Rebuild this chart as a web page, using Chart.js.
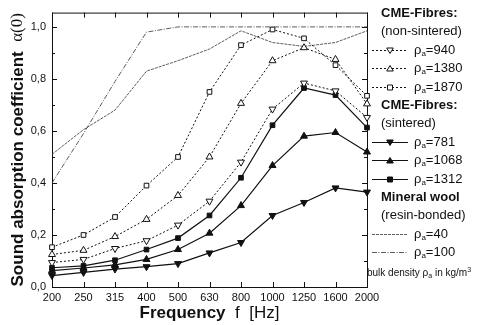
<!DOCTYPE html>
<html>
<head>
<meta charset="utf-8">
<script src="https://cdn.jsdelivr.net/npm/chart.js@4.4.1/dist/chart.umd.min.js"></script>
<style>
  body { margin: 0; background: #fff; }
  #wrap { position: relative; width: 478px; height: 325px; font-family: "Liberation Sans", Arial, sans-serif; color: #111; }
  #chart { position: absolute; left: 0; top: 0; }
  .row { position: absolute; white-space: nowrap; font-size: 13px; line-height: 14px; }
  .row.head { font-weight: bold; }
  .row sub { font-size: 8px; vertical-align: -2px; }
  .row canvas { position: absolute; left: 0; top: 1px; }
  .row span.t { position: absolute; left: 42px; top: 0; }
  .note { position: absolute; left: 367px; top: 266px; font-size: 10px; white-space: nowrap; }
  .note sub { font-size: 7px; vertical-align: -2px; }
  .note sup { font-size: 7px; vertical-align: 4px; }
</style>
</head>
<body>
<div id="wrap">
  <canvas id="chart" width="478" height="325"></canvas>
  <div id="legend"></div>
  <div class="note">bulk density ρ<sub>a</sub> in kg/m<sup>3</sup></div>
</div>
<script>
// frequencies (category axis)
const freqs = ["200", "250", "315", "400", "500", "630", "800", "1000", "1250", "1600", "2000"];
const yTicks = [0, 0.2, 0.4, 0.6, 0.8, 1.0];
const yTickLabels = ["0,0", "0,2", "0,4", "0,6", "0,8", "1,0"];

// CME fibres, non-sintered
const ns940 = [0.094, 0.106, 0.148, 0.178, 0.238, 0.33, 0.48, 0.684, 0.784, 0.754, 0.652];
const ns1380 = [0.125, 0.141, 0.194, 0.26, 0.352, 0.50, 0.706, 0.87, 0.92, 0.875, 0.704];
const ns1870 = [0.153, 0.20, 0.269, 0.39, 0.50, 0.75, 0.93, 0.99, 0.956, 0.853, 0.735];
// CME fibres, sintered
const s781 = [0.044, 0.056, 0.069, 0.078, 0.09, 0.131, 0.171, 0.275, 0.325, 0.381, 0.365];
const s1068 = [0.063, 0.073, 0.085, 0.106, 0.144, 0.207, 0.313, 0.467, 0.58, 0.594, 0.519];
const s1312 = [0.074, 0.081, 0.103, 0.144, 0.188, 0.275, 0.42, 0.622, 0.765, 0.738, 0.613];
// mineral wool (resin-bonded)
const mw40 = [0.51, 0.605, 0.68, 0.83, 0.87, 0.915, 0.985, 0.94, 0.925, 0.94, 0.985];
const mw100 = [0.40, 0.59, 0.79, 0.98, 1.0, 1.0, 1.0, 1.0, 1.0, 1.0, 1.0];

const ink = "#111";
const dotted = [2, 2];

function marker(style, filled, rot) {
  return {
    pointStyle: style,
    pointRotation: rot || 0,
    pointRadius: style === "rect" ? 3.3 : 4,
    pointBackgroundColor: filled ? ink : "#fff",
    pointBorderColor: ink,
    pointBorderWidth: 1,
  };
}

const datasets = [
  { label: "940", data: ns940, borderDash: dotted, ...marker("triangle", false, 180) },
  { label: "1380", data: ns1380, borderDash: dotted, ...marker("triangle", false) },
  { label: "1870", data: ns1870, borderDash: dotted, ...marker("rect", false) },
  { label: "781", data: s781, borderWidth: 1.2, ...marker("triangle", true, 180) },
  { label: "1068", data: s1068, borderWidth: 1.2, ...marker("triangle", true) },
  { label: "1312", data: s1312, borderWidth: 1.2, ...marker("rect", true) },
  { label: "40", data: mw40, borderDash: [3, 1], borderWidth: 0.8, borderColor: "#333", pointRadius: 0 },
  { label: "100", data: mw100, borderDash: [5, 1.5, 1, 1.5], borderWidth: 0.8, borderColor: "#333", pointRadius: 0 },
].map((d) => ({ borderColor: ink, borderWidth: 1, tension: 0, ...d }));

// inward ticks on all four sides + frame
const frameTicks = {
  id: "frameTicks",
  beforeDatasetsDraw(chart) {
    const { ctx, chartArea: a, scales: { x, y } } = chart;
    ctx.save();
    ctx.strokeStyle = ink;
    ctx.lineWidth = 1;
    ctx.strokeRect(a.left + 0.5, a.top + 0.5, a.right - a.left, a.bottom - a.top);
    ctx.beginPath();
    freqs.forEach((f, i) => {
      const px = Math.round(x.getPixelForValue(i)) + 0.5;
      ctx.moveTo(px, a.bottom); ctx.lineTo(px, a.bottom - 5);
      ctx.moveTo(px, a.top); ctx.lineTo(px, a.top + 5);
    });
    for (let k = 0; k <= 10; k++) {
      const py = Math.round(y.getPixelForValue(k / 10)) + 0.5;
      const len = k % 2 === 0 ? 5 : 3;
      ctx.moveTo(a.left, py); ctx.lineTo(a.left + len, py);
      ctx.moveTo(a.right, py); ctx.lineTo(a.right - len, py);
    }
    ctx.stroke();
    ctx.restore();
  },
};

// axis titles with a bold part and a plain part
function drawParts(ctx, parts) {
  let w = 0;
  parts.forEach((p) => { ctx.font = p.font; w += ctx.measureText(p.text).width; });
  let x = -w / 2;
  parts.forEach((p) => {
    ctx.font = p.font;
    ctx.fillText(p.text, x, 0);
    x += ctx.measureText(p.text).width;
  });
}

const axisTitles = {
  id: "axisTitles",
  afterDraw(chart) {
    const { ctx, chartArea: a } = chart;
    ctx.save();
    ctx.fillStyle = ink;
    ctx.textBaseline = "middle";
    ctx.textAlign = "left";
    ctx.translate((a.left + a.right) / 2, 313);
    drawParts(ctx, [
      { text: "Frequency  ", font: "bold 17px 'Liberation Sans'" },
      { text: "f  [Hz]", font: "17px 'Liberation Sans'" },
    ]);
    ctx.restore();
    ctx.save();
    ctx.fillStyle = ink;
    ctx.textBaseline = "middle";
    ctx.textAlign = "left";
    ctx.translate(18, (a.top + a.bottom) / 2);
    ctx.rotate(-Math.PI / 2);
    drawParts(ctx, [
      { text: "Sound absorption coefficient  ", font: "bold 17px 'Liberation Sans'" },
      { text: "α(0)", font: "17px 'Liberation Serif'" },
    ]);
    ctx.restore();
  },
};

new Chart(document.getElementById("chart"), {
  type: "line",
  data: { labels: freqs, datasets: datasets },
  options: {
    responsive: false,
    animation: false,
    layout: { padding: { top: 5, right: 111, left: 0, bottom: 0 } },
    plugins: { legend: { display: false }, tooltip: { enabled: false } },
    scales: {
      x: {
        offset: false,
        border: { display: false },
        grid: { display: false, drawTicks: false },
        ticks: { color: ink, padding: 4, maxRotation: 0, autoSkip: false, font: { family: "Liberation Sans", size: 11 } },
        afterFit(scale) { scale.height = 38; },
      },
      y: {
        min: 0,
        max: 1.055,
        border: { display: false },
        grid: { display: false, drawTicks: false },
        afterBuildTicks(scale) { scale.ticks = yTicks.map((v) => ({ value: v })); },
        ticks: {
          color: ink,
          padding: 6,
          font: { family: "Liberation Sans", size: 11 },
          callback: (v) => yTickLabels[yTicks.findIndex((t) => Math.abs(t - v) < 1e-6)],
        },
        afterFit(scale) { scale.width = 52; },
      },
    },
  },
  plugins: [frameTicks, axisTitles],
});

// legend built next to the plot
const legendRows = [
  { kind: "head", text: "CME-Fibres:" },
  { kind: "sub", text: "(non-sintered)" },
  { kind: "item", ds: 0 },
  { kind: "item", ds: 1 },
  { kind: "item", ds: 2 },
  { kind: "head", text: "CME-Fibres:" },
  { kind: "sub", text: "(sintered)" },
  { kind: "item", ds: 3 },
  { kind: "item", ds: 4 },
  { kind: "item", ds: 5 },
  { kind: "head", text: "Mineral wool" },
  { kind: "sub", text: "(resin-bonded)" },
  { kind: "item", ds: 6 },
  { kind: "item", ds: 7 },
];

function drawSample(cv, d) {
  const c = cv.getContext("2d");
  c.strokeStyle = d.borderColor;
  c.lineWidth = d.borderWidth;
  c.setLineDash(d.borderDash || []);
  c.beginPath(); c.moveTo(0, 6.5); c.lineTo(36, 6.5); c.stroke();
  c.setLineDash([]);
  if (!d.pointRadius) return;
  c.fillStyle = d.pointBackgroundColor;
  c.strokeStyle = ink;
  c.lineWidth = 1;
  c.beginPath();
  const cx = 18, cy = 6.5, r = 3.3;
  if (d.pointStyle === "rect") {
    c.rect(cx - 2.5, cy - 2.5, 5, 5);
  } else if (d.pointRotation === 180) {
    c.moveTo(cx - r, cy - 2.5); c.lineTo(cx + r, cy - 2.5); c.lineTo(cx, cy + 3); c.closePath();
  } else {
    c.moveTo(cx - r, cy + 2.5); c.lineTo(cx + r, cy + 2.5); c.lineTo(cx, cy - 3); c.closePath();
  }
  c.fill(); c.stroke();
}

const legend = document.getElementById("legend");
legendRows.forEach((r, i) => {
  const row = document.createElement("div");
  row.className = "row " + r.kind;
  row.style.top = (6 + i * 18.4) + "px";
  if (r.kind === "item") {
    const d = datasets[r.ds];
    row.style.left = "372px";
    const cv = document.createElement("canvas");
    cv.width = 36; cv.height = 13;
    drawSample(cv, d);
    row.appendChild(cv);
    const t = document.createElement("span");
    t.className = "t";
    t.innerHTML = "ρ<sub>a</sub>=" + d.label;
    row.appendChild(t);
  } else {
    row.style.left = "381px";
    row.textContent = r.text;
  }
  legend.appendChild(row);
});
</script>
</body>
</html>
